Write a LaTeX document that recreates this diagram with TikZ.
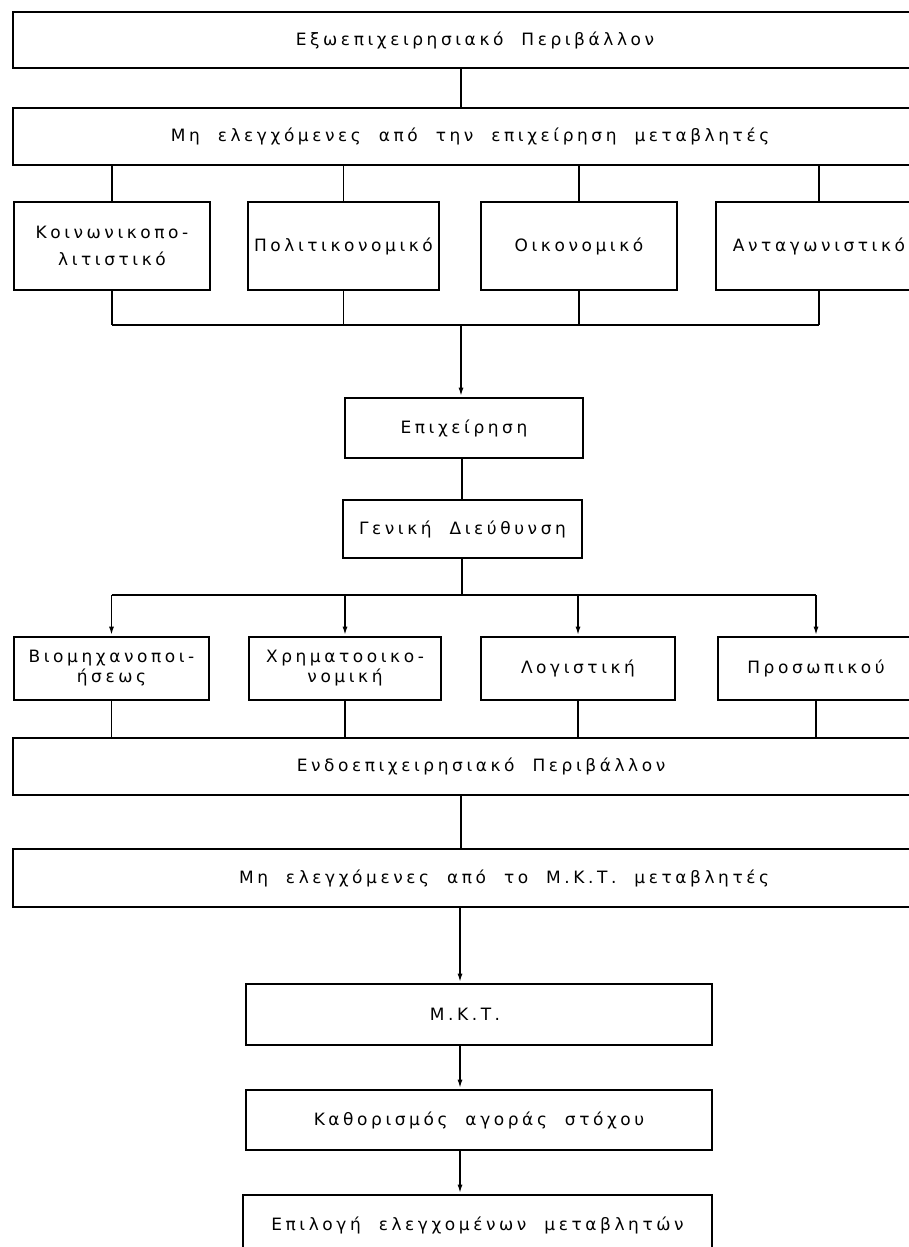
\documentclass[tikz,border=0pt]{standalone}
\usepackage{fontspec}
\usetikzlibrary{arrows.meta}
\newfontfamily\gr[LetterSpace=21,WordSpace=2]{DejaVu Sans}
\begin{document}
\begin{tikzpicture}[x=1pt,y=-1pt,
  box/.style={draw, line width=2.8pt, inner sep=0pt, rectangle, font=\gr\fontsize{17}{20}\selectfont, align=center},
  conn/.style={line width=1.8pt},
  arr/.style={line width=1.8pt, -{Latex[length=9pt,width=5pt]}}]
\useasboundingbox (0,0) rectangle (909,1247);
\clip (0,0) rectangle (909,1247);
% boxes
\node[box, minimum width=924pt, minimum height=56pt] (top) at (475,40) {Εξωεπιχειρησιακό Περιβάλλον};
\node[box, minimum width=914pt, minimum height=57pt] (m1) at (470,136.5) {Μη ελεγχόμενες από την επιχείρηση μεταβλητές};
\node[box, minimum width=196pt, minimum height=88pt, font=\gr\fontsize{17}{27}\selectfont] (k1) at (112,246) {Κοινωνικοπο-\\λιτιστικό};
\node[box, minimum width=191pt, minimum height=88pt] (k2) at (343.5,246) {Πολιτικονομικό};
\node[box, minimum width=196pt, minimum height=88pt] (k3) at (579,246) {Οικονομικό};
\node[box, minimum width=206pt, minimum height=88pt] (k4) at (819,246) {Ανταγωνιστικό};
\node[box, minimum width=238pt, minimum height=60pt] (e) at (464,428) {Επιχείρηση};
\node[box, minimum width=239pt, minimum height=58pt] (g) at (462.5,529) {Γενική Διεύθυνση};
\node[box, minimum width=195pt, minimum height=63pt] (b1) at (111.5,668.5) {Βιομηχανοποι-\\ήσεως};
\node[box, minimum width=192pt, minimum height=63pt] (b2) at (345,668.5) {Χρηματοοικο-\\νομική};
\node[box, minimum width=194pt, minimum height=63pt] (b3) at (578,668.5) {Λογιστική};
\node[box, minimum width=196pt, minimum height=63pt] (b4) at (816,668.5) {Προσωπικού};
\node[box, minimum width=936pt, minimum height=57pt] (endo) at (481,766.5) {Ενδοεπιχειρησιακό Περιβάλλον};
\node[box, minimum width=982pt, minimum height=58pt] (m2) at (504,878) {Μη ελεγχόμενες από το Μ.Κ.Τ. μεταβλητές};
\node[box, minimum width=466pt, minimum height=61pt] (mkt) at (479,1014.5) {Μ.Κ.Τ.\hspace*{28pt}};
\node[box, minimum width=466pt, minimum height=60pt] (kath) at (479,1120) {Καθορισμός αγοράς στόχου};
\node[box, minimum width=469pt, minimum height=60pt] (epi) at (477.5,1225) {Επιλογή ελεγχομένων μεταβλητών};
% connectors
\coordinate (c1) at (461,68);
\draw[conn] (c1) -- (c1 |- m1.north);
\foreach \k in {k1,k2,k3,k4}{\draw[conn] (\k.north |- m1.south) -- (\k.north);}
\coordinate (j1) at (461,325);
\foreach \k in {k1,k2,k3,k4}{\draw[conn] (\k.south) -- (\k.south |- j1);}
\draw[conn] (k1.south |- j1) -- (k4.south |- j1);
\draw[arr] (j1) -- (j1 |- e.north);
\coordinate (c6) at (462,458);
\draw[conn] (c6) -- (c6 |- g.north);
\coordinate (j2) at (462,595);
\draw[conn] (j2 |- g.south) -- (j2);
\draw[conn] (b1.north |- j2) -- (b4.north |- j2);
\foreach \b in {b1,b2,b3,b4}{\draw[arr] (\b.north |- j2) -- (\b.north);}
\foreach \b in {b1,b2,b3,b4}{\draw[conn] (\b.south) -- (\b.south |- endo.north);}
\coordinate (c2) at (461,795);
\draw[conn] (c2) -- (c2 |- m2.north);
\coordinate (c3) at (460,907);
\draw[arr] (c3) -- (c3 |- mkt.north);
\coordinate (c4) at (460,1045);
\draw[arr] (c4) -- (c4 |- kath.north);
\coordinate (c5) at (460,1150);
\draw[arr] (c5) -- (c5 |- epi.north);
\end{tikzpicture}
\end{document}
